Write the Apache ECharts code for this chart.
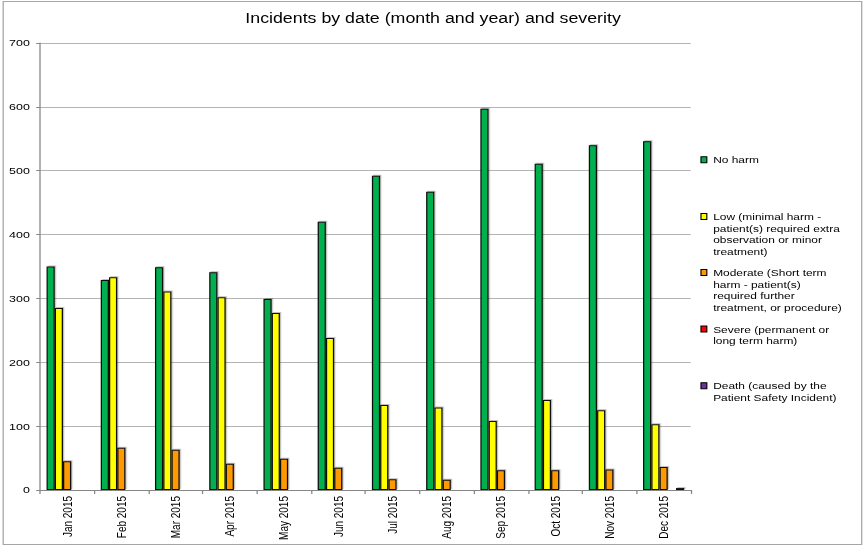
<!DOCTYPE html>
<html>
<head>
<meta charset="utf-8">
<script src="https://cdn.jsdelivr.net/npm/echarts@6/dist/echarts.min.js"></script>
<style>
  html, body { margin: 0; padding: 0; background: #fff; }
  #wrap { width: 866px; height: 548px; overflow: hidden; position: relative; }
  #chart { width: 682px; height: 548px; transform: scaleX(1.27); transform-origin: 0 0; }
</style>
</head>
<body>
<div id="wrap"><div id="chart"></div></div>
<script>
const categories = ['Jan 2015', 'Feb 2015', 'Mar 2015', 'Apr 2015', 'May 2015', 'Jun 2015',
  'Jul 2015', 'Aug 2015', 'Sep 2015', 'Oct 2015', 'Nov 2015', 'Dec 2015'];
const noHarm   = [350, 329, 349, 341, 299, 420, 492, 467, 597, 511, 540, 546];
const low      = [285, 333, 311, 302, 277, 238, 133, 129, 108, 141, 125, 103];
const moderate = [45, 66, 63, 41, 49, 35, 17, 16, 31, 31, 32, 36];
const severe   = [0, 0, 1, 0, 1, 0, 1, 0, 0, 0, 1, 0];
const death    = [0, 1, 0, 0, 0, 0, 0, 0, 0, 0, 1, 3];
const yTicks   = [0, 100, 200, 300, 400, 500, 600, 700];

const seriesNames = [
  'No harm',
  'Low (minimal harm - patient(s) required extra observation or minor treatment)',
  'Moderate (Short term harm - patient(s) required further treatment, or procedure)',
  'Severe (permanent or long term harm)',
  'Death (caused by the Patient Safety Incident)'
];
const legendLines = [
  ['No harm'],
  ['Low (minimal harm -', 'patient(s) required extra', 'observation or minor', 'treatment)'],
  ['Moderate (Short term', 'harm - patient(s)', 'required further', 'treatment, or procedure)'],
  ['Severe (permanent or', 'long term harm)'],
  ['Death (caused by the', 'Patient Safety Incident)']
];
const seriesData = [noHarm, low, moderate, severe, death];
const colors = ['#00b050', '#ffff00', '#ff9900', '#ff0000', '#7030a0'];

const FONT = '"Liberation Sans", Arial, sans-serif';
const LH = 11.67;
const legendCenters = [159.8, 216.5, 272.5, 329, 385.7];

// Legend text is centred on its icon; pad with blank lines above so the
// first text line sits beside the icon, as in the reference.
function legendText(lines) {
  const pad = new Array(lines.length - 1).fill('');
  return pad.concat(lines).join('\n');
}

const chart = echarts.init(document.getElementById('chart'), null, { renderer: 'svg' });

const option = {
  animation: false,
  textStyle: { fontFamily: FONT },
  title: {
    text: 'Incidents by date (month and year) and severity',
    left: 'center',
    top: 6,
    textStyle: { fontFamily: FONT, fontSize: 14, fontWeight: 'normal', color: '#000', lineHeight: 15 }
  },
  graphic: [{
    type: 'rect',
    shape: { x: 2.5, y: 1.5, width: 676, height: 543 },
    style: { fill: 'none', stroke: '#a6a6a6', lineWidth: 1 },
    silent: true
  }],
  legend: seriesNames.map((n, i) => {
    const nLines = legendLines[i].length;
    const blockH = (2 * nLines - 1) * LH;
    return {
      data: [n],
      orient: 'vertical',
      left: 551.5,
      top: legendCenters[i] - blockH / 2,
      padding: 0,
      itemWidth: 4.6,
      itemHeight: 6,
      icon: 'rect',
      selectedMode: false,
      formatter: () => legendText(legendLines[i]),
      itemStyle: { borderColor: '#000', borderWidth: 0.9, shadowBlur: 0, shadowOffsetX: 0, shadowOffsetY: 0 },
      textStyle: { fontFamily: FONT, fontSize: 9.4, lineHeight: LH, color: '#000' }
    };
  }),
  grid: { left: 31.5, right: 138.1, top: 43, bottom: 58, containLabel: false },
  xAxis: {
    type: 'category',
    data: categories,
    axisLine: { lineStyle: { color: '#868686', width: 1 } },
    axisTick: { show: true, length: 4, lineStyle: { color: '#868686' } },
    axisLabel: { rotate: 90, margin: 6, fontSize: 10, color: '#000', fontFamily: FONT, interval: 0 },
    splitLine: { show: false }
  },
  yAxis: {
    type: 'value',
    min: yTicks[0],
    max: yTicks[yTicks.length - 1],
    interval: 100,
    axisLine: { show: true, lineStyle: { color: '#868686', width: 1 } },
    axisTick: { show: true, length: 3, lineStyle: { color: '#868686' } },
    axisLabel: { margin: 8, fontSize: 9.8, color: '#000', fontFamily: FONT },
    splitLine: { show: true, lineStyle: { color: '#b4b4b4', width: 1 } }
  },
  series: seriesData.map((arr, i) => ({
    name: seriesNames[i],
    type: 'bar',
    barGap: '0%',
    barCategoryGap: '24%',
    barMinHeight: 0,
    data: arr.map(v => ({ value: v, itemStyle: { borderWidth: v ? 1 : 0 } })),
    itemStyle: {
      color: colors[i],
      borderColor: '#111',
      borderWidth: 1,
      shadowColor: 'rgba(0,0,0,0.25)',
      shadowBlur: 1,
      shadowOffsetX: 1,
      shadowOffsetY: -1
    }
  }))
};
chart.setOption(option);
</script>
</body>
</html>
